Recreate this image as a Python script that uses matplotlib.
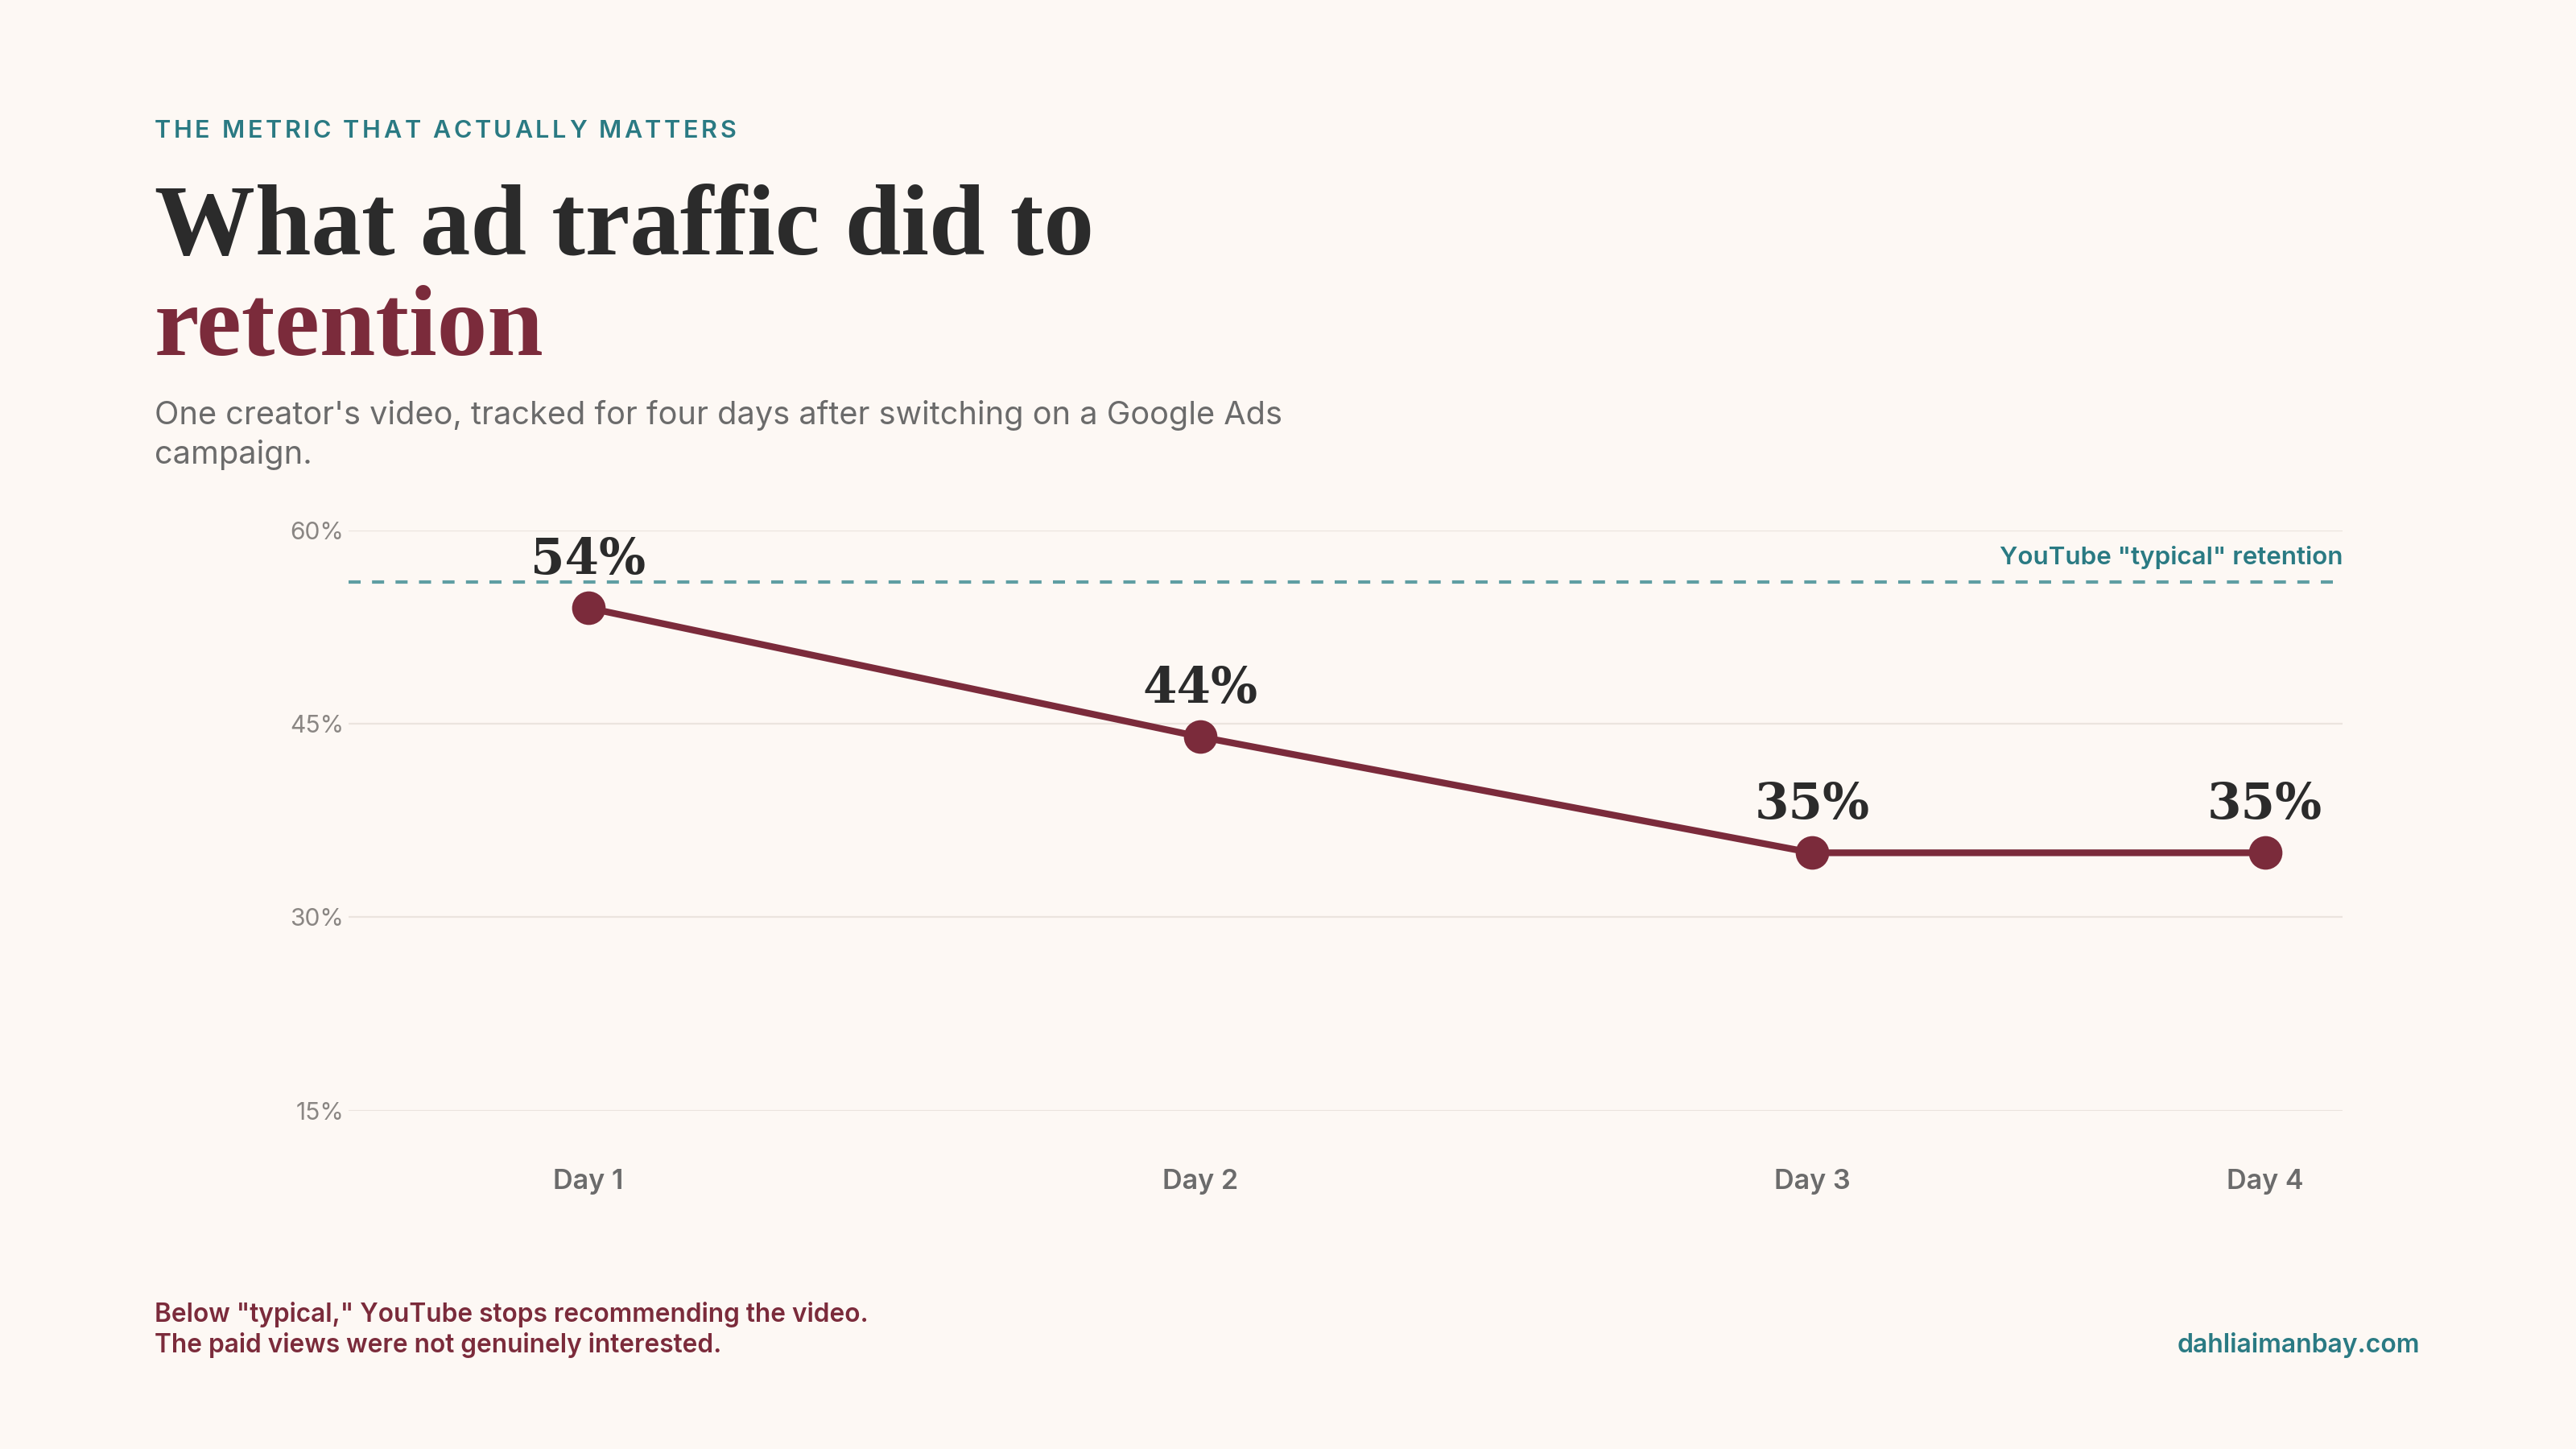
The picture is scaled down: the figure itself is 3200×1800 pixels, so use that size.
import matplotlib
matplotlib.use("Agg")
import matplotlib.pyplot as plt

# Data
days = ["Day 1", "Day 2", "Day 3", "Day 4"]
retention = [54, 44, 35, 35]
typical_retention = 56
y_ticks = [15, 30, 45, 60]

# layout: where each day sits along the x axis (matches original spacing)
day_pos = [0, 1, 2, 2.74]

BG = "#fdf8f4"
MAROON = "#7b2b3b"
TEAL = "#2a7a83"
DARK = "#2b2b2b"
GREY = "#6b6b6b"

plt.rcParams["font.family"] = ["Inter", "DejaVu Sans"]

fig = plt.figure(figsize=(16, 9), dpi=200, facecolor=BG)
ax = fig.add_axes([0.1352, 0.2336, 0.7742, 0.4002])
ax.set_facecolor(BG)


def tracked_text(x, y, s, spacing, **kw):
    # matplotlib has no letter-spacing, so place characters one by one
    r = fig.canvas.get_renderer()
    fw = fig.bbox.width
    for ch in s:
        t = fig.text(x, y, ch, **kw)
        w = t.get_window_extent(renderer=r).width
        if ch == " ":
            w = fig.text(0, 0, "a a", **kw).get_window_extent(renderer=r).width - \
                fig.text(0, 0, "aa", **kw).get_window_extent(renderer=r).width
            fig.texts[-1].remove()
            fig.texts[-1].remove()
        x += (w + spacing) / fw


# Gridlines
for t in y_ticks:
    ax.axhline(t, color="#ebe4de", lw=0.8, zorder=0)

# Typical retention reference
ax.axhline(typical_retention, color="#5f9ea3", lw=1.5, linestyle=(0, (3.6, 3.4)), zorder=1)
ax.text(1, typical_retention + 1.0, 'YouTube "typical" retention',
        transform=ax.get_yaxis_transform(), ha="right", va="bottom",
        color=TEAL, fontsize=11.3, fontweight="semibold")

# Retention line
ax.plot(day_pos, retention, color=MAROON, lw=3, marker="o", markersize=14,
        solid_capstyle="round", zorder=3)

for x, v in zip(day_pos, retention):
    ax.annotate(f"{v}%", (x, v), xytext=(0, 10.5), textcoords="offset points",
                ha="center", va="bottom", fontsize=22, fontweight="bold",
                color=DARK, family=["DejaVu Serif"], zorder=4)

ax.set_ylim(15, 60)
ax.set_xlim(-0.392, 2.867)
ax.set_yticks(y_ticks)
ax.set_yticklabels([f"{t}%" for t in y_ticks], color="#8a8683", fontsize=10.8)
ax.set_xticks(day_pos)
ax.set_xticklabels(days, color=GREY, fontsize=12.3, fontweight="semibold")
ax.tick_params(axis="both", length=0)
ax.tick_params(axis="x", pad=26)
ax.tick_params(axis="y", pad=2)
for s in ax.spines.values():
    s.set_visible(False)

# Header
tracked_text(0.06, 0.905, "THE METRIC THAT ACTUALLY MATTERS", 3.6, color=TEAL,
             fontsize=11, fontweight="semibold", va="baseline")
fig.text(0.06, 0.8244, "What ad traffic did to", color=DARK, fontsize=45,
         fontweight="bold", family=["Liberation Serif"], va="baseline")
fig.text(0.06, 0.755, "retention", color=MAROON, fontsize=45,
         fontweight="bold", family=["Liberation Serif"], va="baseline")
fig.text(0.06, 0.707, "One creator's video, tracked for four days after switching on a Google Ads",
         color=GREY, fontsize=14.3, va="baseline")
fig.text(0.06, 0.680, "campaign.", color=GREY, fontsize=14.3, va="baseline")

# Footer
fig.text(0.06, 0.088, 'Below "typical," YouTube stops recommending the video.',
         color=MAROON, fontsize=11.4, fontweight="semibold", va="baseline")
fig.text(0.06, 0.0667, "The paid views were not genuinely interested.",
         color=MAROON, fontsize=11.4, fontweight="semibold", va="baseline")
fig.text(0.9395, 0.0667, "dahliaimanbay.com", color=TEAL, fontsize=11.5,
         fontweight="semibold", ha="right", va="baseline")

fig.savefig("out.png", dpi=200, facecolor=BG)
